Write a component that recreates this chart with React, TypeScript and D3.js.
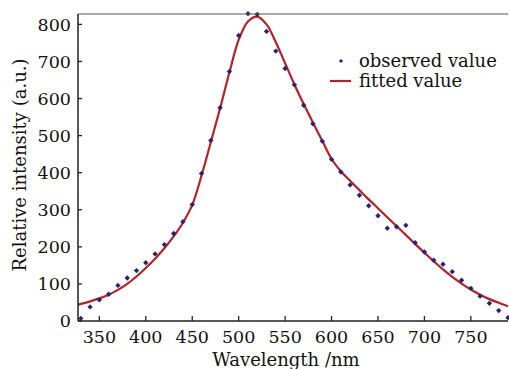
import React from 'react';
import * as d3 from 'd3';

// observed spectrum (every 10 nm)
const obsWavelength = [330, 340, 350, 360, 370, 380, 390, 400, 410, 420, 430, 440, 450, 460, 470, 480, 490, 500, 510, 520, 530, 540, 550, 560, 570, 580, 590, 600, 610, 620, 630, 640, 650, 660, 670, 680, 690, 700, 710, 720, 730, 740, 750, 760, 770, 780, 790];
const obsIntensity = [7, 38, 57, 72, 96, 116, 136, 157, 181, 206, 236, 268, 314, 398, 487, 575, 673, 770, 829, 827, 781, 728, 681, 637, 582, 532, 485, 436, 402, 367, 339, 311, 284, 250, 254, 258, 211, 186, 164, 153, 133, 110, 88, 67, 48, 28, 9];

// fitted curve
const fitWavelength = [327, 340, 350, 360, 370, 380, 390, 400, 410, 420, 430, 440, 450, 460, 470, 480, 490, 500, 510, 520, 530, 540, 550, 560, 570, 580, 590, 600, 610, 620, 630, 640, 650, 660, 670, 680, 690, 700, 710, 720, 730, 740, 750, 760, 770, 780, 790];
const fitIntensity = [44, 53, 61, 71, 84, 100, 120, 143, 168, 196, 228, 265, 313, 392, 482, 574, 670, 758, 808, 821, 800, 752, 695, 638, 585, 535, 486, 437, 404, 378, 353, 328, 304, 280, 256, 232, 208, 184, 161, 139, 119, 101, 85, 71, 59, 49, 40];

const xTicks = [350, 400, 450, 500, 550, 600, 650, 700, 750];
const yTicks = [0, 100, 200, 300, 400, 500, 600, 700, 800];

const font = '"DejaVu Serif", serif';

const App = () => {
  const width = 509, height = 369;
  const margin = { left: 78, right: 1, top: 14, bottom: 48 };

  const x = d3.scaleLinear().domain([327, 790]).range([margin.left, width - margin.right]);
  const y = d3.scaleLinear().domain([0, 828]).range([height - margin.bottom, margin.top]);

  const fitted = fitWavelength.map((w, i) => [w, fitIntensity[i]] as [number, number]);
  const line = d3.line<[number, number]>()
    .x(d => x(d[0]))
    .y(d => y(d[1]))
    .curve(d3.curveCatmullRom.alpha(0.5));

  const x0 = x.range()[0], x1 = x.range()[1];
  const y0 = y.range()[0], y1 = y.range()[1];

  return (
    <svg width={width} height={height} style={{ position: 'absolute', left: 0, top: 0, background: '#fff' }}>
      {/* fitted curve */}
      <path d={line(fitted) || ''} fill="none" stroke="#b2222a" strokeWidth={2.2} />

      {/* observed points */}
      {obsWavelength.map((w, i) => (
        <rect key={w} x={x(w) - 1.9} y={y(obsIntensity[i]) - 1.9} width={3.8} height={3.8}
          fill="#2d2170" transform={`rotate(45 ${x(w)} ${y(obsIntensity[i])})`} />
      ))}

      {/* frame */}
      <line x1={x0} x2={x1} y1={y1} y2={y1} stroke="#555" strokeWidth={1.2} />
      <line x1={x0} x2={x0} y1={y0} y2={y1} stroke="#222" strokeWidth={1.5} />
      <line x1={x0} x2={x1} y1={y0} y2={y0} stroke="#222" strokeWidth={1.5} />

      {/* x axis ticks */}
      {xTicks.map(t => (
        <g key={t}>
          <line x1={x(t)} x2={x(t)} y1={y0} y2={y0 - 5} stroke="#222" strokeWidth={1.3} />
          <text x={x(t)} y={343} textAnchor="middle" fontFamily={font} fontSize={17.5} fill="#111">{t}</text>
        </g>
      ))}

      {/* y axis ticks */}
      {yTicks.map(t => (
        <g key={t}>
          <line x1={x0} x2={x0 + 4} y1={y(t)} y2={y(t)} stroke="#222" strokeWidth={1.3} />
          <text x={71} y={y(t)} dy="0.37em" textAnchor="end" fontFamily={font} fontSize={17.5} fill="#111">{t}</text>
        </g>
      ))}

      {/* axis titles */}
      <text x={286} y={366} textAnchor="middle" fontFamily={font} fontSize={18} fill="#111">Wavelength /nm</text>
      <text transform="translate(26,165) rotate(-90)" textAnchor="middle" fontFamily={font} fontSize={18} fill="#111">Relative intensity (a.u.)</text>

      {/* legend */}
      <rect x={339.5} y={59.5} width={3} height={3} fill="#2d2170" transform="rotate(45 341 61)" />
      <text x={359} y={67} fontFamily={font} fontSize={18} fill="#111">observed value</text>
      <line x1={330} x2={351} y1={81} y2={81} stroke="#b2222a" strokeWidth={2.2} />
      <text x={359} y={87} fontFamily={font} fontSize={18} fill="#111">fitted value</text>
    </svg>
  );
};

export default App;
